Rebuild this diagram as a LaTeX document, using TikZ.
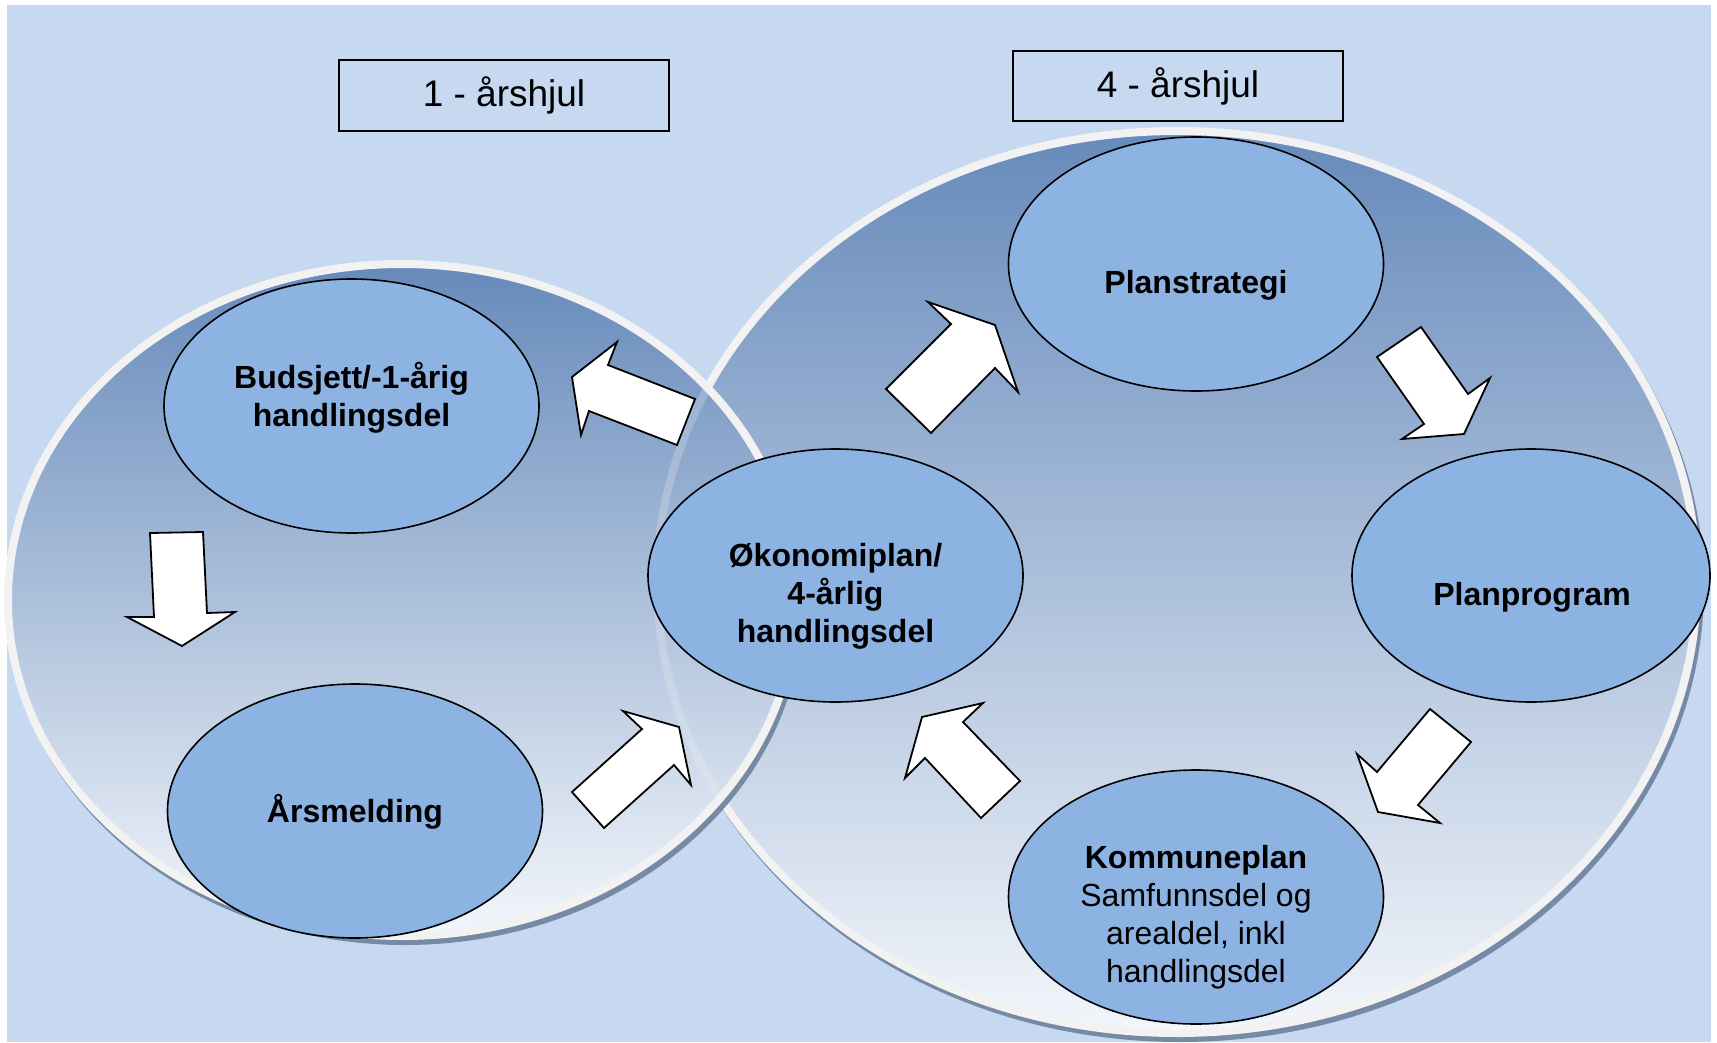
\documentclass[tikz,border=0pt]{standalone}
\usepackage{fontspec}
\setmainfont{Liberation Sans}
\usetikzlibrary{shapes.geometric}
\definecolor{bg}{RGB}{198,217,240}
\definecolor{innerc}{RGB}{141,179,226}
\definecolor{ringc}{RGB}{242,242,242}
\definecolor{shad}{RGB}{118,138,165}
\definecolor{gtop}{RGB}{102,138,187}
\definecolor{gmid}{RGB}{142,170,206}
\definecolor{gbot}{RGB}{243,246,251}
\begin{document}
\begin{tikzpicture}[x=1pt,y=-1pt,
  bigring/.style={draw=ringc,line width=8pt},
  bigshadow/.style={fill=shad},
  bigfill/.style={top color=gtop,middle color=gmid,bottom color=gbot},
  stage/.style={ellipse,draw=black,line width=1.6pt,fill=innerc,inner sep=0pt},
  lbl/.style={font=\fontsize{32}{38}\selectfont\bfseries,align=center,inner sep=0pt},
  lblr/.style={font=\fontsize{32}{38}\selectfont,align=center,inner sep=0pt},
  yeartitle/.style={draw=black,line width=1.6pt,inner sep=0pt,font=\fontsize{37}{44}\selectfont},
  blockarrow/.style={draw=black,fill=white,line width=1.8pt,line join=miter}]
\useasboundingbox (0,0) rectangle (1717,1042);
\fill[bg] (7,5) rectangle (1711,1042);

% big right wheel
\coordinate (rc) at (1177,582);
\fill[bigshadow] ([shift={(3,5)}]rc) ellipse [x radius=524pt, y radius=455pt];
\shade[bigfill] (rc) ellipse [x radius=520pt, y radius=451pt];
\draw[bigring] (rc) ellipse [x radius=520pt, y radius=451pt];

% big left wheel
\coordinate (lc) at (402,600);
\fill[bigshadow] ([shift={(3,5)}]lc) ellipse [x radius=398pt, y radius=340pt];
\shade[bigfill] (lc) ellipse [x radius=394pt, y radius=336pt];
\begin{scope}
  \clip (lc) ellipse [x radius=394pt, y radius=336pt];
  \draw[draw=ringc,line width=8pt,opacity=0.25] (rc) ellipse [x radius=520pt, y radius=451pt];
\end{scope}
\draw[bigring] (lc) ellipse [x radius=394pt, y radius=336pt];

% titles
\node[yeartitle,minimum width=330pt,minimum height=71pt] (t1) at (504,95.5) {1 - årshjul};
\node[yeartitle,minimum width=330pt,minimum height=70pt] (t4) at (1178,86) {4 - årshjul};

% stage ellipses
\node[stage,minimum width=375pt,minimum height=254pt] (bud) at (351.5,406) {};
\node[stage,minimum width=375pt,minimum height=254pt] (ars) at (355,811) {};
\node[stage,minimum width=375pt,minimum height=253pt] (oko) at (835.5,575.5) {};
\node[stage,minimum width=375pt,minimum height=254pt] (strat) at (1196,264) {};
\node[stage,minimum width=358pt,minimum height=253pt] (prog) at (1531,575.5) {};
\node[stage,minimum width=375pt,minimum height=254pt] (komm) at (1196,897) {};

% labels
\node[lbl] (budT) at (351.5,398) {Budsjett/-1-årig\\handlingsdel};
\node[lbl] (arsT) at (355,812) {Årsmelding};
\node[lbl] (okoT) at (835.5,596) {Økonomiplan/\\4-årlig\\handlingsdel};
\node[lbl] (stratT) at (1196,285) {Planstrategi};
\node[lbl] (progT) at (1532,597) {Planprogram};
\node[lblr] (kommT) at (1196,917) {\textbf{Kommuneplan}\\Samfunnsdel og\\arealdel, inkl\\handlingsdel};

% block arrows
\draw[blockarrow] (572,377) -- (617,342) -- (608,365) -- (695,399) -- (677,445) -- (589,411) -- (581,435) -- cycle;
\draw[blockarrow] (150,533) -- (203,532) -- (207,613) -- (235,612) -- (182,646) -- (127,617) -- (154,617) -- cycle;
\draw[blockarrow] (604,828) -- (572,792) -- (642,729) -- (623,711) -- (679,727) -- (691,785) -- (674,765) -- cycle;
\draw[blockarrow] (886,389) -- (951,324) -- (928,302) -- (995,325) -- (1018,392) -- (995,368) -- (931,433) -- cycle;
\draw[blockarrow] (1377,357) -- (1421,327) -- (1468,394) -- (1490,378) -- (1464,434) -- (1402,439) -- (1424,424) -- cycle;
\draw[blockarrow] (1430,709) -- (1471,742) -- (1418,805) -- (1440,823) -- (1378,812) -- (1357,754) -- (1377,772) -- cycle;
\draw[blockarrow] (1020,781) -- (981,818) -- (925,758) -- (905,778) -- (922,717) -- (983,703) -- (963,722) -- cycle;
\end{tikzpicture}
\end{document}
